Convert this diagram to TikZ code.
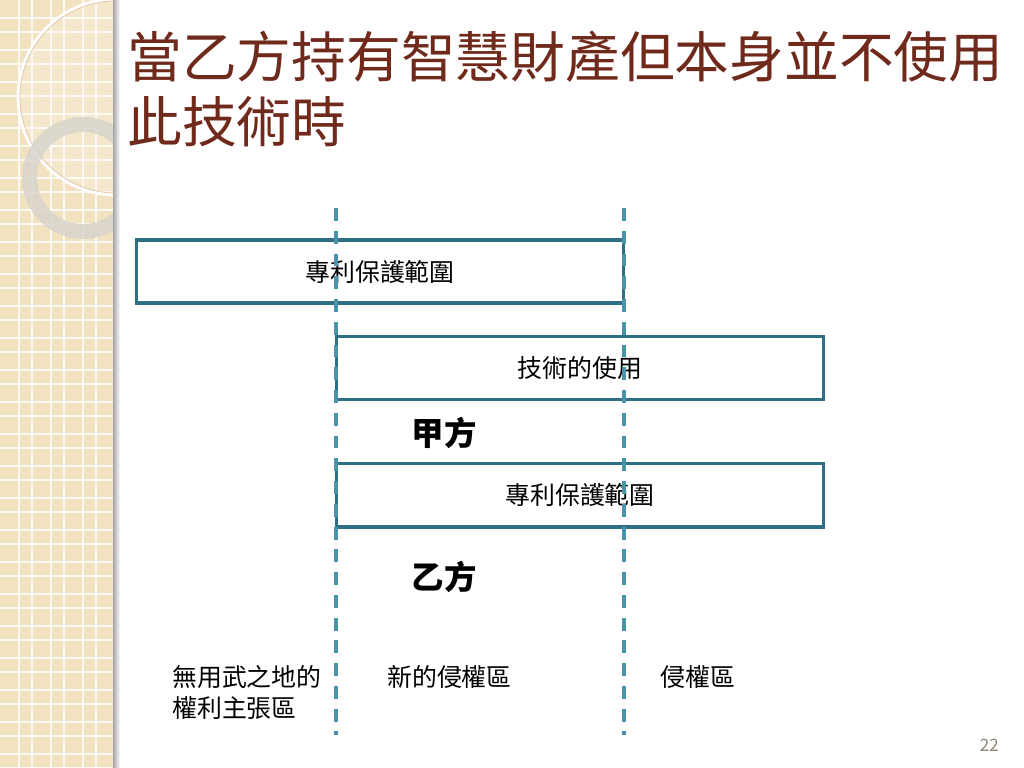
\documentclass[tikz,border=0pt]{standalone}
\usepackage{fontspec}
\setmainfont{Noto Sans CJK TC}
\usetikzlibrary{positioning}
\definecolor{boxline}{RGB}{47,111,134}
\definecolor{dashline}{RGB}{72,148,170}
\definecolor{titlered}{RGB}{112,42,28}
\definecolor{stripbg}{RGB}{242,226,192}
\definecolor{ringgray}{RGB}{214,211,204}
\definecolor{pagegray}{RGB}{140,132,118}

\begin{document}
\begin{tikzpicture}[x=0.703125pt,y=-0.703125pt,on grid,
  spanbox/.style={draw=boxline,line width=2.2pt,fill=white,minimum width=343pt,
    minimum height=44.3pt,inner sep=0pt,font=\fontsize{17.5}{21}\selectfont},
  party/.style={font=\fontsize{22.8}{26}\selectfont\bfseries,inner sep=0pt},
  zone/.style={font=\fontsize{17.5}{21.8}\selectfont,align=left,inner sep=0pt,anchor=west},
  border/.style={draw=dashline,line width=2.2pt,dash pattern=on 9.1pt off 6.9pt}]
\useasboundingbox (0,0) rectangle (1024,768);
\fill[white] (0,0) rectangle (1024,768);
% left strip
\fill[stripbg] (0,0) rectangle (113,768);
\foreach \k in {0,...,24}{
  \draw[white,line width=1.2pt,opacity=0.85] (0,{18+32*\k}) -- (113,{18+32*\k});
  \draw[white,line width=1.2pt,opacity=0.85] (0,{32+32*\k}) -- (113,{32+32*\k});
}
\foreach \k in {0,...,3}{
  \draw[white,line width=1.2pt,opacity=0.85] ({19+32*\k},0) -- ({19+32*\k},768);
  \draw[white,line width=1.2pt,opacity=0.85] ({32+32*\k},0) -- ({32+32*\k},768);
}
\begin{scope}
\clip (0,0) rectangle (113,768);
\fill[white,opacity=0.18] (116,97) circle[radius=98];
\draw[white,line width=2pt] (116,97) circle[radius=98];
\draw[brown!45,line width=0.5pt] (116,97) circle[radius=96];
\draw[ringgray,line width=10.5pt,opacity=0.8] (83,178) circle[radius=53.5];
\end{scope}
\shade[left color=black!35,right color=white] (113,0) rectangle (120,768);

% title
\node[anchor=west,inner sep=0pt,align=left,text=titlered,
  font=\fontsize{38.5}{45.7}\selectfont] (title) at (127,88.5)
  {當乙方持有智慧財產但本身並不使用\\此技術時};

% ranges
\node[spanbox] (scopeA) at (380,271.5) {專利保護範圍};
\node[spanbox] (use) at (580,368) {技術的使用};
\node[spanbox] (scopeB) [below=89.6pt of use] {專利保護範圍};
\node[party] (jia) at (444,433) {甲方};
\node[party] (yi) [below=101.3pt of jia] {乙方};

% borders
\coordinate (leftTop) at (336,208);
\coordinate (leftBot) at (336,735);
\coordinate (rightTop) at (624,208);
\coordinate (rightBot) at (624,735);
\draw[border] (leftTop) -- (leftBot);
\draw[border] (rightTop) -- (rightBot);

% zones
\node[zone] (waste) at (172,692.5) {無用武之地的\\權利主張區};
\node[zone] (newzone) at (387,677) {新的侵權區};
\node[zone] (oldzone) at (660,677) {侵權區};

\node[anchor=east,inner sep=0pt,text=pagegray,font=\fontsize{12}{14}\selectfont]
  (page) at (999,745) {22};
\end{tikzpicture}
\end{document}
